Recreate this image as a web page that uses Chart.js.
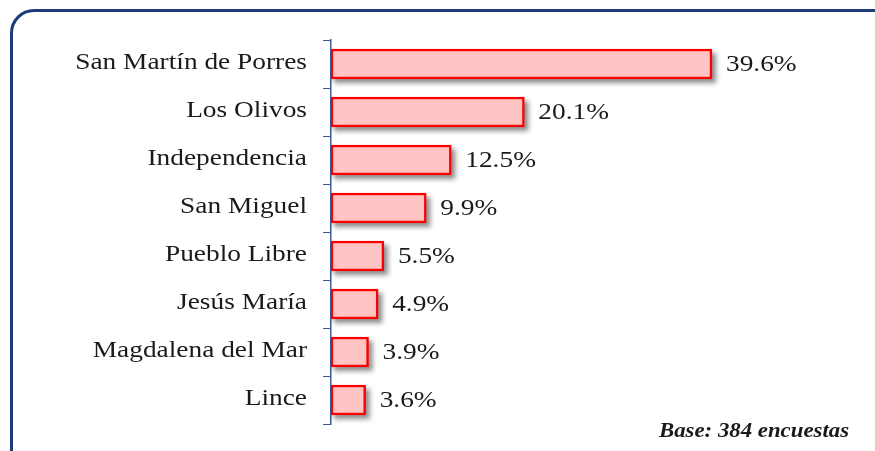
<!DOCTYPE html>
<html>
<head>
<meta charset="utf-8">
<script src="https://cdn.jsdelivr.net/npm/chart.js@4"></script>
<style>
  body { margin: 0; background: #fff; overflow: hidden; }
  #marco {
    position: absolute; left: 10px; top: 9px; width: 900px; height: 480px;
    border: 3px solid #1c3a7c; border-radius: 24px; box-sizing: border-box;
  }
  #caja { position: absolute; left: 0; top: 0; width: 875px; height: 451px; }
</style>
</head>
<body>
<div id="marco"></div>
<div id="caja"><canvas id="grafico"></canvas></div>
<script>
// datos
var distritos = ['San Martín de Porres', 'Los Olivos', 'Independencia', 'San Miguel',
                 'Pueblo Libre', 'Jesús María', 'Magdalena del Mar', 'Lince'];
var porcentajes = [39.6, 20.1, 12.5, 9.9, 5.5, 4.9, 3.9, 3.6];
var nota = 'Base: 384 encuestas';

var fuente = '"Liberation Serif", "Times New Roman", serif';
var ancho = 1.14; // el original esta estirado a lo ancho

function texto(c, t, x, y, alin) {
    c.save();
    c.translate(x, y);
    c.scale(ancho, 1);
    c.textAlign = alin;
    c.fillText(t, 0, 0);
    c.restore();
}

// sombra gris debajo de las barras
var sombra = {
    id: 'sombra',
    beforeDatasetsDraw: function (chart) {
        var c = chart.ctx;
        c.save();
        c.filter = 'blur(2.5px)';
        c.fillStyle = 'rgba(0,0,0,0.45)';
        chart.getDatasetMeta(0).data.forEach(function (b) {
            c.fillRect(b.base + 3, b.y - b.height / 2 + 4, b.x - b.base + 1, b.height);
        });
        c.restore();
    }
};

// nombres, porcentajes y nota de base
var etiquetas = {
    id: 'etiquetas',
    afterDraw: function (chart) {
        var c = chart.ctx;
        var meta = chart.getDatasetMeta(0);
        c.save();
        c.font = '24px ' + fuente;
        c.fillStyle = '#1a1a1a';
        c.textBaseline = 'middle';
        meta.data.forEach(function (b, i) {
            texto(c, distritos[i], 307, b.y - 1, 'right');
            texto(c, porcentajes[i].toFixed(1) + '%', b.x + 14, b.y + 1, 'left');
        });
        c.font = 'italic bold 20px ' + fuente;
        c.textBaseline = 'alphabetic';
        texto(c, nota, 849, 437, 'right');
        c.restore();
    }
};

new Chart(document.getElementById('grafico'), {
    type: 'bar',
    data: {
        labels: distritos,
        datasets: [{
            data: porcentajes,
            backgroundColor: '#ffc4c4',
            borderColor: '#ff0000',
            borderWidth: 2.5,
            borderSkipped: false,
            barThickness: 30
        }]
    },
    options: {
        indexAxis: 'y',
        responsive: true,
        maintainAspectRatio: false,
        animation: false,
        layout: { padding: { top: 40, bottom: 27, right: 63, left: 0 } },
        plugins: { legend: { display: false }, tooltip: { enabled: false } },
        scales: {
            x: { display: false, min: 0, max: 50 },
            y: {
                afterFit: function (s) { s.width = 331; },
                grid: { drawOnChartArea: false, drawTicks: true, tickLength: 8, color: '#3d5a96' },
                border: { display: true, color: '#3d5a96', width: 1.5 },
                ticks: { display: false }
            }
        }
    },
    plugins: [sombra, etiquetas]
});
</script>
</body>
</html>
